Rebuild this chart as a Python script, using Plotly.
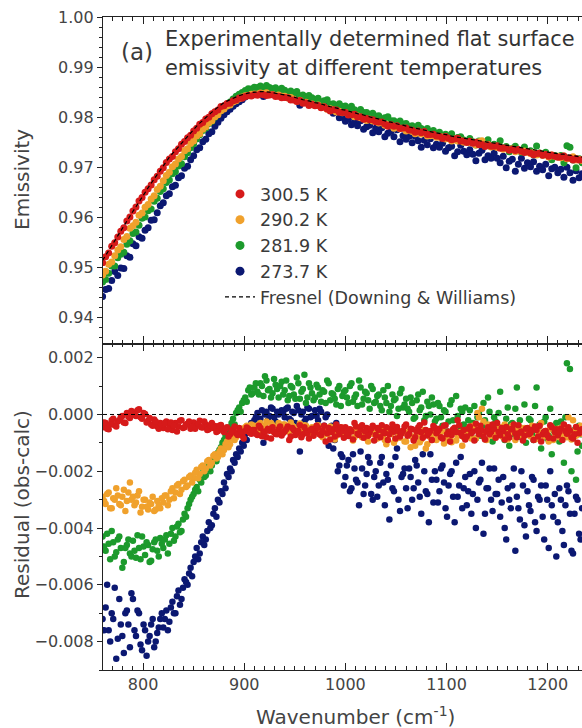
import numpy as np
import plotly.graph_objects as go

# ---------------- data ----------------
# wavenumber grids (cm^-1)
wavenumber = np.arange(760, 1235, 3)        # main grid (also used for emissivity)
wavenumber_b = np.arange(761.5, 1234, 3)    # interleaved residual samples

# Fresnel (Downing & Williams) calculated emissivity
fresnel = [
    .9514, .9524, .9534, .9544, .9553, .9563, .9573, .9582, .9592, .9602,
    .9612, .9621, .9631, .9641, .9650, .9659, .9668, .9677, .9686, .9695,
    .9704, .9712, .9720, .9727, .9734, .9741, .9748, .9756, .9762, .9769,
    .9775, .9782, .9788, .9794, .9800, .9805, .9810, .9815, .9820, .9825,
    .9829, .9832, .9835, .9838, .9841, .9843, .9845, .9847, .9848, .9849,
    .9850, .9851, .9851, .9851, .9851, .9850, .9849, .9848, .9847, .9846,
    .9845, .9843, .9842, .9840, .9838, .9837, .9835, .9834, .9832, .9831,
    .9829, .9828, .9826, .9825, .9823, .9821, .9820, .9818, .9817, .9815,
    .9814, .9812, .9811, .9809, .9807, .9806, .9804, .9802, .9801, .9799,
    .9798, .9796, .9794, .9793, .9791, .9790, .9788, .9787, .9785, .9784,
    .9782, .9781, .9779, .9778, .9777, .9775, .9774, .9773, .9771, .9770,
    .9769, .9767, .9766, .9765, .9764, .9762, .9761, .9760, .9759, .9758,
    .9757, .9756, .9754, .9753, .9752, .9751, .9750, .9749, .9748, .9747,
    .9746, .9745, .9744, .9743, .9742, .9741, .9740, .9739, .9738, .9737,
    .9736, .9735, .9734, .9733, .9732, .9731, .9731, .9730, .9729, .9728,
    .9727, .9726, .9726, .9725, .9724, .9723, .9722, .9721, .9720,
]

# residuals (obs - calc) on the main grid, in units of 1e-5
res_300_5 = [
    -45, -30, -52, -20, -38, -25, -10, -28, 5, -12,
    8, -5, 18, -15, 2, -22, -35, -18, -42, -30,
    -48, -25, -38, -55, -30, -42, -20, -45, -33, -50,
    -28, -40, -22, -46, -35, -52, -30, -41, -58, -37,
    -62, -45, -70, -52, -66, -48, -75, -58, -50, -68,
    -55, -72, -48, -63, -80, -57, -45, -69, -52, -74,
    -60, -42, -78, -55, -65, -38, -70, -58, -85, -50,
    -62, -47, -73, -40, -66, -88, -52, -35, -70, -58,
    -45, -76, -60, -30, -68, -54, -82, -48, -63, -40,
    -72, -55, -38, -66, -90, -50, -61, -44, -78, -57,
    -35, -69, -52, -80, -46, -63, -28, -74, -58, -41,
    -66, -50, -85, -38, -60, -72, -47, -20, -65, -55,
    -78, -42, -60, -33, -70, -56, -88, -45, -62, -50,
    -30, -73, -58, -44, -81, -52, -67, -38, -60, -75,
    -48, -64, -90, -55, -40, -70, -58, -82, -45, -62,
    -73, -50, -35, -68, -57, -85, -44, -66, -52,
]
res_290_2 = [
    -290, -315, -275, -330, -300, -285, -320, -265, -305, -240,
    -290, -310, -270, -325, -300, -335, -315, -340, -305, -330,
    -310, -285, -300, -260, -275, -245, -265, -230, -250, -215,
    -225, -195, -210, -180, -190, -160, -170, -140, -150, -120,
    -125, -95, -105, -75, -80, -60, -50, -45, -55, -35,
    -40, -50, -30, -45, -25, -55, -38, -48, -30, -42,
    -35, -50, -28, -44, -60, -32, -52, -40, -65, -45,
    -55, -38, -62, -48, -70, -42, -58, -75, -50, -63,
    -48, -66, -55, -80, -45, -72, -60, -85, -52, -68,
    -58, -75, -48, -90, -62, -70, -100, -55, -82, -65,
    -95, -60, -78, -110, -70, -88, -55, -105, -80, -68,
    -90, -72, -58, -85, -65, -98, -50, -75, -62, -80,
    -55, -70, -40, -85, -10, 20, -60, -35, -75, -50,
    -65, -45, -80, -58, -72, -40, -90, -55, -68, -48,
    -62, -78, -50, -85, -40, -70, -58, -95, -45, -65,
    -50, -72, -38, -80, -60, -20, -75, -55, -68,
]
res_281_9 = [
    -430, -480, -455, -410, -500, -440, -470, -520, -460, -490,
    -445, -505, -470, -430, -495, -460, -515, -450, -480, -435,
    -470, -425, -455, -400, -430, -385, -410, -350, -330, -300,
    -280, -255, -230, -205, -215, -175, -180, -150, -135, -115,
    -90, -60, -45, -15, 5, 25, 40, 60, 85, 70,
    95, 80, 110, 65, 120, 90, 75, 105, 60, 115,
    85, 50, 100, 70, 130, 55, 90, 40, 110, 75,
    60, 95, 45, 80, 120, 50, 70, 35, 100, 65,
    85, 40, 110, 60, 30, 95, 55, 75, 20, 90,
    45, 70, 15, 60, 100, 30, 50, -5, 75, 25,
    55, 10, 40, -10, 70, 25, -20, 45, 0, 35,
    -15, 30, -40, 10, -25, 50, -50, -5, 20, -35,
    -60, 15, -30, -85, 5, -45, -20, 60, -70, -10,
    -40, 80, -65, -15, -110, -30, 20, -55, -80, 35,
    -50, -20, -90, 95, -35, -65, -10, -75, -140, -45,
    -60, -25, -170, 180, 160, -85, -230, -40, -110,
]
res_273_7 = [
    -720, -680, -760, -700, -610, -790, -740, -840, -690, -820,
    -650, -780, -700, -830, -760, -800, -740, -820, -770, -720,
    -750, -690, -730, -660, -700, -620, -650, -580, -600, -540,
    -520, -470, -490, -430, -440, -380, -390, -330, -300, -270,
    -240, -210, -190, -160, -140, -120, -100, -70, -50, -30,
    -20, 5, -15, -100, 10, -5, 20, -25, 0, 15,
    -10, 25, -20, 5, 30, -130, 10, -15, 20, -5,
    15, -20, 10, -40, 0, -60, -120, -30, -180, -150,
    -220, -160, -260, -190, -240, -130, -280, -210, -170, -300,
    -200, -250, -150, -320, -230, -180, -270, -120, -340, -210,
    -260, -190, -300, -160, -240, -350, -200, -280, -140, -310,
    -230, -270, -180, -330, -250, -200, -380, -290, -150, -260,
    -320, -210, -280, -400, -240, -170, -350, -260, -300, -190,
    -280, -360, -220, -440, -300, -250, -480, -330, -200, -390,
    -270, -340, -230, -410, -300, -360, -250, -470, -320, -280,
    -380, -300, -460, -250, -350, -490, -290, -420, -330,
]

# residuals on the interleaved grid, in units of 1e-5
res_300_5_b = [
    -28, -50, -35, -15, -42, -20, -5, -30, -8, 12,
    -2, 15, -10, 5, -28, -12, -40, -25, -50, -35,
    -30, -52, -28, -40, -60, -22, -48, -35, -25, -44,
    -50, -33, -45, -25, -55, -38, -48, -62, -40, -52,
    -50, -78, -58, -42, -72, -60, -85, -46, -64, -55,
    -68, -40, -77, -60, -50, -85, -62, -70, -42, -65,
    -52, -90, -48, -72, -58, -80, -45, -66, -55, -75,
    -40, -70, -58, -95, -48, -62, -78, -55, -45, -82,
    -65, -52, -88, -42, -72, -38, -60, -75, -50, -92,
    -48, -80, -62, -45, -70, -35, -85, -58, -66, -42,
    -75, -50, -92, -60, -38, -82, -55, -65, -90, -48,
    -58, -80, -40, -70, -95, -52, -62, -38, -76, -88,
    -50, -66, -92, -55, -40, -78, -60, -70, -35, -82,
    -62, -48, -88, -70, -52, -35, -80, -64, -92, -50,
    -70, -55, -42, -78, -95, -60, -72, -38, -85, -52,
    -62, -90, -58, -45, -80, -70, -100, -55,
]
res_290_2_b = [
    -305, -280, -330, -295, -260, -315, -290, -340, -275, -300,
    -320, -285, -345, -300, -325, -310, -290, -335, -320, -295,
    -285, -320, -270, -295, -250, -280, -235, -255, -220, -240,
    -205, -225, -185, -200, -165, -180, -145, -155, -130, -140,
    -105, -115, -85, -90, -65, -70, -55, -40, -60, -48,
    -55, -35, -60, -40, -52, -30, -62, -45, -55, -35,
    -48, -62, -40, -55, -70, -45, -38, -58, -50, -72,
    -60, -45, -80, -55, -65, -50, -88, -62, -45, -70,
    -75, -58, -92, -62, -50, -80, -70, -95, -65, -55,
    -85, -60, -72, -105, -68, -50, -88, -75, -62, -95,
    -70, -115, -85, -62, -98, -75, -120, -65, -90, -58,
    -78, -60, -102, -70, -85, -55, -92, -68, -110, -72,
    -65, -85, -50, 5, -70, -25, -90, -58, -45, -80,
    -55, -75, -35, -88, -62, -50, -78, -45, -85, -60,
    -72, -40, -88, -60, -30, -78, -65, -50, -90, -55,
    -80, -45, -65, -10, -88, -58, -70, -40,
]
res_281_9_b = [
    -465, -420, -510, -450, -485, -430, -540, -470, -440, -500,
    -480, -425, -510, -465, -450, -520, -475, -440, -500, -455,
    -440, -490, -420, -445, -395, -415, -370, -360, -315, -290,
    -265, -270, -240, -220, -190, -200, -160, -165, -125, -100,
    -75, -70, -30, -35, 15, 10, 50, 45, 95, 75,
    110, 70, 100, 135, 85, 60, 125, 90, 100, 70,
    120, 65, 95, 55, 110, 80, 140, 60, 95, 50,
    105, 70, 85, 40, 110, 75, 55, 90, 30, 80,
    60, 100, 45, 70, 120, 35, 80, 50, 100, 40,
    65, 30, 85, 40, 10, 70, 55, 20, 90, 35,
    20, 60, -15, 50, 15, 80, -5, 30, 60, -25,
    40, -10, 15, -60, 35, -20, 65, -45, 10, 25,
    -20, -55, 30, -10, -75, 40, -40, 10, -95, -25,
    5, -50, -90, 25, -35, -70, 95, -20, -60, -100,
    -15, -70, 30, -45, -120, -25, -85, 20, -55, -30,
    -95, -40, -10, -75, -200, -55, -130, -70,
]
res_273_7_b = [
    -760, -600, -800, -720, -860, -650, -780, -700, -740, -630,
    -760, -690, -810, -740, -850, -780, -720, -800, -750, -700,
    -720, -760, -680, -700, -640, -670, -610, -590, -560, -570,
    -500, -510, -450, -460, -410, -400, -350, -360, -310, -280,
    -260, -220, -200, -170, -150, -130, -110, -90, -60, -45,
    -10, -35, 15, 0, -20, 25, -10, 10, -40, 5,
    20, -15, 10, -30, 15, 0, -25, 25, -10, -50,
    -5, 20, -70, -10, -110, -40, -90, -200, -140, -250,
    -180, -270, -140, -230, -320, -190, -250, -150, -280, -220,
    -290, -170, -240, -210, -370, -260, -150, -300, -220, -190,
    -330, -220, -260, -180, -290, -140, -270, -380, -230, -200,
    -310, -190, -240, -360, -210, -290, -170, -250, -330, -220,
    -270, -350, -200, -300, -230, -420, -260, -190, -340, -280,
    -230, -310, -400, -260, -330, -190, -290, -370, -250, -430,
    -320, -220, -380, -290, -250, -440, -300, -200, -360, -500,
    -260, -410, -320, -270, -480, -350, -300, -440,
]

series_names = ["300.5 K", "290.2 K", "281.9 K", "273.7 K"]
series_res = [res_300_5, res_290_2, res_281_9, res_273_7]
series_res_b = [res_300_5_b, res_290_2_b, res_281_9_b, res_273_7_b]
series_colors = ["#d61a1a", "#f0a12c", "#1c9a2c", "#0b1872"]

y_ticks_top = [0.94, 0.95, 0.96, 0.97, 0.98, 0.99, 1.00]
y_ticks_bot = [-0.008, -0.006, -0.004, -0.002, 0.000, 0.002]
x_ticks = [800, 900, 1000, 1100, 1200]

# ---------------- figure ----------------
fig = go.Figure()
F = np.array(fresnel)

# draw blue first, red last (red on top)
for k in [3, 2, 1, 0]:
    r = np.array(series_res[k]) * 1e-5
    rb = np.array(series_res_b[k]) * 1e-5
    obs = F + r
    fig.add_trace(go.Scatter(
        x=wavenumber, y=obs, mode="markers", xaxis="x", yaxis="y",
        marker=dict(color=series_colors[k], size=7, line=dict(width=0)),
        showlegend=False, hoverinfo="skip"))
    fig.add_trace(go.Scatter(
        x=np.concatenate([wavenumber, wavenumber_b[:len(rb)]]),
        y=np.concatenate([r, rb]), mode="markers", xaxis="x2", yaxis="y2",
        marker=dict(color=series_colors[k], size=6.5, line=dict(width=0)),
        showlegend=False, hoverinfo="skip"))

fig.add_trace(go.Scatter(
    x=wavenumber, y=F, mode="lines", xaxis="x", yaxis="y",
    line=dict(color="black", width=1.2, dash="4px,3px"),
    showlegend=False, hoverinfo="skip"))

# legend entries
for k in range(4):
    fig.add_trace(go.Scatter(
        x=[None], y=[None], mode="markers", name=series_names[k],
        marker=dict(color=series_colors[k], size=9), legendrank=k + 1))
fig.add_trace(go.Scatter(
    x=[None], y=[None], mode="lines", name="Fresnel (Downing & Williams)",
    line=dict(color="black", width=1.2, dash="4px,3px"), legendrank=5))

fig.add_hline(y=0, xref="x2", yref="y2", line=dict(color="black", width=1, dash="4px,3px"),
              layer="above")

axis_col = "#222222"
tick_font = dict(family="DejaVu Sans", size=16, color="#444444")
common_x = dict(range=[760.4, 1233.9], tickvals=x_ticks, ticks="inside", ticklen=7,
                tickwidth=1, tickcolor=axis_col, showline=True, linecolor=axis_col,
                linewidth=1.2, mirror="allticks", showgrid=False, zeroline=False,
                minor=dict(dtick=10, tick0=800, ticks="inside", ticklen=3.5,
                           tickcolor=axis_col, showgrid=False),
                tickfont=tick_font)


def py(px):
    """pixel row -> paper y"""
    return 1 - (px - 17) / 653


def px_(x):
    """pixel column -> paper x"""
    return (x - 103) / 479


fig.update_layout(
    width=582, height=728,
    margin=dict(l=103, r=0, t=17, b=58),
    paper_bgcolor="white", plot_bgcolor="white",
    font=dict(family="DejaVu Sans", color="#3a3a3a"),
    xaxis=dict(**common_x, anchor="y", showticklabels=False, domain=[0, 1]),
    xaxis2=dict(**common_x, anchor="y2", matches="x", showticklabels=True, domain=[0, 1]),
    yaxis=dict(domain=[0.5, 1], range=[0.9348, 1.0], tickvals=y_ticks_top, tickformat=".2f",
               ticks="outside", ticklen=5, tickcolor=axis_col, showline=True,
               linecolor=axis_col, linewidth=1.2, mirror=True, showgrid=False,
               zeroline=False, tickfont=tick_font,
               minor=dict(dtick=0.002, tick0=0.94, ticks="outside", ticklen=3,
                          tickcolor=axis_col, showgrid=False)),
    yaxis2=dict(domain=[0, 0.5], range=[-0.009, 0.0025], tickvals=y_ticks_bot, tickformat=".3f",
                ticks="outside", ticklen=5, tickcolor=axis_col, showline=True,
                linecolor=axis_col, linewidth=1.2, mirror=True, showgrid=False,
                zeroline=False, tickfont=tick_font,
                minor=dict(dtick=0.001, tick0=0, ticks="outside", ticklen=3,
                           tickcolor=axis_col, showgrid=False)),
    legend=dict(x=px_(220), y=py(176), xanchor="left", yanchor="top",
                bgcolor="rgba(0,0,0,0)", borderwidth=0,
                font=dict(family="DejaVu Sans", size=17.5, color="#3a3a3a"),
                itemsizing="trace"),
    annotations=[
        dict(text="(a)", x=px_(119), y=py(52), xref="paper", yref="paper",
             xanchor="left", yanchor="middle", showarrow=False,
             font=dict(family="DejaVu Sans", size=23, color="#3a3a3a")),
        dict(text="Experimentally determined flat surface", x=px_(163), y=py(39),
             xref="paper", yref="paper", xanchor="left", yanchor="middle",
             showarrow=False, font=dict(family="DejaVu Sans", size=20.9, color="#333333")),
        dict(text="emissivity at different temperatures", x=px_(163), y=py(68),
             xref="paper", yref="paper", xanchor="left", yanchor="middle",
             showarrow=False, font=dict(family="DejaVu Sans", size=20.9, color="#333333")),
        dict(text="Emissivity", x=px_(22), y=py(180), xref="paper", yref="paper",
             textangle=-90, xanchor="center", yanchor="middle", showarrow=False,
             font=dict(family="DejaVu Sans", size=20, color="#444444")),
        dict(text="Residual (obs-calc)", x=px_(22), y=py(505), xref="paper",
             yref="paper", textangle=-90, xanchor="center", yanchor="middle",
             showarrow=False, font=dict(family="DejaVu Sans", size=20, color="#444444")),
        dict(text="Wavenumber (cm<sup>-1</sup>)", x=px_(355), y=py(716),
             xref="paper", yref="paper", xanchor="center", yanchor="middle",
             showarrow=False, font=dict(family="DejaVu Sans", size=20, color="#444444")),
    ],
)

fig.write_html("out.html")
